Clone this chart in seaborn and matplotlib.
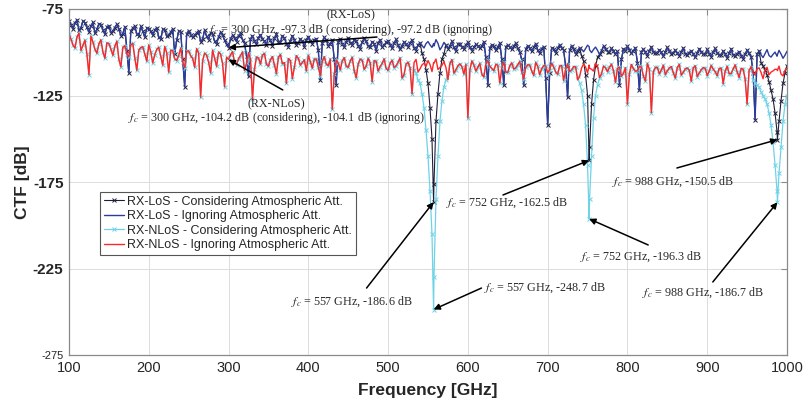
import numpy as np
import pandas as pd
import matplotlib
matplotlib.use("Agg")
import matplotlib.pyplot as plt
import seaborn as sns

# Frequency grid [GHz]: 5 GHz main grid, interleaved half-step grid, absorption-line centres
freq_main = np.arange(100, 1001, 5)
freq_half = np.arange(102.5, 1000, 5)
freq_lines = [557, 752, 988]

# RX-LoS, ignoring atmospheric attenuation [dB], main grid (+ line centres)
los_ign_main = [
    -82.1, -86.5, -81.3, -85.9, -83.0, -88.2, -82.7, -86.8, -84.1, -89.5,    # 100-145
    -84.6, -87.9, -83.8, -90.4, -85.2, -112.0, -86.1, -89.3, -85.0, -91.2,   # 150-195
    -86.3, -90.1, -85.7, -92.6, -87.0, -89.8, -86.4, -93.1, -88.2, -120.0,   # 200-245
    -87.5, -91.4, -88.9, -94.0, -87.2, -92.7, -89.6, -95.3, -88.4, -93.0,    # 250-295
    -97.2, -90.3, -93.8, -89.1, -94.9, -114.0, -90.6, -95.2, -89.9, -93.4,   # 300-345
    -91.0, -96.1, -89.7, -94.3, -91.8, -97.0, -90.5, -95.6, -92.3, -96.8,    # 350-395
    -90.9, -95.0, -92.1, -116.0, -91.4, -96.3, -93.0, -119.0, -92.2, -97.1,  # 400-445
    -91.6, -95.8, -93.4, -98.0, -92.0, -96.4, -93.9, -99.1, -92.8, -96.0,    # 450-495
    -93.5, -97.7, -92.6, -98.4, -94.1, -96.9, -92.9, -99.0, -94.6, -97.5,    # 500-545
    -93.8, -97.2, -95.0, -92.7, -98.6, -94.3, -97.9, -93.6, -99.4, -95.1, -98.2,  # 550-595 (+557)
    -94.2, -99.0, -95.5, -97.6, -93.9, -119.0, -95.8, -98.9, -94.7, -119.0,  # 600-645
    -95.9, -98.3, -94.8, -100.1, -119.0, -96.2, -99.5, -95.0, -100.6, -96.7, # 650-695
    -142.0, -97.3, -100.4, -95.6, -98.8, -126.0, -96.1, -100.9, -97.4, -99.7,  # 700-745
    -95.9, -96.8, -100.2, -97.0, -101.3, -96.5, -99.6, -97.8, -101.0, -119.0, -98.1,  # 750-795 (+752)
    -96.6, -100.7, -97.5, -122.0, -98.3, -101.9, -96.9, -100.2, -98.6, -102.4,  # 800-845
    -97.2, -100.8, -98.8, -102.0, -97.6, -101.5, -99.1, -103.0, -97.9, -101.2,  # 850-895
    -98.4, -102.6, -97.8, -101.7, -99.3, -103.4, -98.0, -102.1, -99.6, -103.8,  # 900-945
    -98.7, -102.5, -139.0, -99.2, -103.1, -98.5, -102.8, -99.9, -101.4, -98.9, -103.5,  # 950-995 (+988)
    -99.4,                                                                    # 1000
]
# RX-LoS, ignoring, half-step grid 102.5-997.5
los_ign_half = [
    -84.0, -83.2, -87.4, -81.9, -85.5, -84.8, -88.9, -83.5, -86.9, -85.3,
    -88.6, -85.7, -86.4, -89.2, -99.0, -87.5, -84.9, -90.6, -87.8, -86.1,
    -88.0, -87.4, -91.3, -86.8, -90.7, -88.5, -101.0, -87.9, -104.0, -89.4,
    -89.9, -90.2, -87.6, -92.4, -90.8, -88.7, -93.6, -91.1, -90.0, -95.5,
    -92.1, -91.7, -90.4, -92.8, -102.0, -92.3, -93.7, -91.5, -92.6, -95.8,
    -93.2, -92.0, -93.9, -90.6, -95.1, -93.3, -92.9, -94.8, -93.6, -92.7,
    -93.6, -92.8, -98.9, -94.4, -93.1, -95.5, -104.0, -94.0, -95.2, -93.8,
    -94.5, -92.9, -96.3, -94.1, -93.7, -97.2, -95.0, -94.6, -97.0, -94.3,
    -95.6, -94.9, -95.9, -96.1, -95.3, -94.7, -97.4, -95.9, -96.2, -95.0,
    -95.7, -96.4, -94.9, -96.8, -95.8, -96.5, -97.2, -95.4, -96.9, -96.0,
    -96.9, -97.1, -96.2, -96.4, -103.0, -97.3, -96.6, -97.0, -104.0, -96.8,
    -97.0, -96.5, -97.6, -104.0, -98.1, -97.4, -97.2, -98.6, -97.9, -115.0,
    -112.0, -98.2, -97.8, -97.6, -108.0, -98.9, -98.4, -99.1, -98.3, -97.9,
    -98.6, -98.4, -98.9, -99.2, -98.1, -99.8, -99.0, -99.5, -104.0, -99.4,
    -98.7, -99.1, -106.0, -99.6, -100.0, -99.3, -99.9, -100.4, -100.1, -99.7,
    -99.4, -100.3, -100.6, -99.8, -100.9, -100.2, -101.0, -100.5, -99.9, -101.3,
    -100.8, -100.1, -100.5, -101.4, -101.0, -100.7, -101.6, -100.9, -102.0, -101.2,
    -100.6, -112.0, -101.3, -101.5, -100.8, -101.9, -101.2, -102.3, -101.0, -101.7,
]

# RX-NLoS, ignoring atmospheric attenuation [dB], main grid (+ line centres)
nlos_ign_main = [
    -89.5, -95.8, -91.2, -99.0, -93.0, -113.0, -94.1, -100.6, -92.8, -103.5,
    -95.0, -101.8, -93.6, -108.5, -96.2, -102.7, -94.9, -110.4, -97.3, -101.0,
    -95.8, -106.2, -98.4, -102.3, -96.7, -111.5, -99.0, -104.8, -97.6, -108.9,
    -99.3, -103.6, -97.9, -126.0, -100.5, -105.7, -98.8, -108.2, -101.1, -120.0,
    -104.1, -99.6, -107.3, -101.9, -110.6, -100.2, -127.0, -102.8, -106.9, -100.7,
    -108.1, -102.5, -112.4, -101.3, -106.0, -103.7, -115.2, -102.0, -107.5, -104.4,
    -101.8, -109.2, -103.9, -113.6, -102.6, -107.8, -133.0, -104.5, -110.3, -103.1,
    -108.7, -102.9, -114.8, -104.0, -109.9, -103.5, -117.1, -105.2, -108.3, -103.8,
    -110.5, -104.6, -107.9, -103.2, -112.9, -105.8, -124.0, -104.1, -109.6, -106.3,
    -104.8, -111.2, -106.0, -103.9, -108.8, -105.4, -115.9, -104.2, -110.1, -106.7, -112.6,
    -138.0, -105.0, -110.9, -106.4, -114.3, -104.7, -109.4, -107.0, -117.8, -105.6,
    -111.7, -106.1, -109.0, -105.3, -115.5, -107.2, -110.8, -105.9, -113.0, -107.7,
    -112.0, -106.3, -111.4, -107.9, -116.4, -106.6, -110.2, -108.4, -114.1, -106.8,
    -111.9, -107.4, -109.8, -106.2, -114.7, -108.0, -111.3, -106.9, -117.4, -108.6, -112.2,
    -130.0, -107.1, -111.0, -108.2, -113.8, -106.5, -135.0, -108.8, -112.5, -107.5,
    -110.7, -108.3, -115.0, -107.0, -111.6, -109.1, -116.8, -107.8, -112.0, -108.9,
    -113.5, -107.6, -111.2, -109.4, -118.2, -108.1, -112.3, -107.3, -114.6, -109.7,
    -130.0, -108.4, -112.9, -109.0, -115.3, -108.7, -111.5, -109.8, -110.6, -108.0, -113.7,
    -109.2,
]
# RX-NLoS, ignoring, half-step grid 102.5-997.5
nlos_ign_half = [
    -92.4, -97.6, -88.9, -96.0, -101.2, -90.7, -98.3, -95.1, -99.8, -94.6,
    -98.1, -96.5, -104.0, -97.2, -100.9, -95.6, -103.3, -98.7, -96.8, -105.2,
    -99.7, -101.4, -97.1, -107.5, -100.3, -98.9, -103.8, -101.9, -105.6, -99.4,
    -102.0, -108.7, -100.6, -104.9, -101.7, -112.0, -103.4, -99.9, -106.5, -103.0,
    -101.5, -105.9, -103.7, -99.8, -106.4, -104.1, -109.7, -103.3, -101.6, -107.0,
    -104.3, -107.2, -103.0, -106.6, -118.0, -104.8, -108.5, -103.6, -105.9, -110.8,
    -105.5, -104.0, -108.6, -105.1, -106.9, -103.9, -112.5, -106.2, -105.0, -108.1,
    -105.2, -110.6, -106.7, -104.6, -108.0, -106.1, -104.9, -110.9, -106.5, -109.3,
    -106.4, -108.9, -105.7, -115.0, -106.8, -109.0, -106.0, -111.4, -107.3, -108.2,
    -107.1, -106.3, -110.0, -107.6, -108.9, -106.5, -112.1, -107.8, -108.3, -107.0,
    -110.2, -107.4, -108.6, -112.7, -106.9, -108.1, -110.7, -107.5, -109.2, -111.5,
    -107.8, -109.7, -107.1, -111.2, -108.8, -107.4, -113.4, -108.2, -109.5, -107.9,
    -110.0, -108.6, -112.8, -107.7, -109.8, -111.1, -108.3, -116.0, -109.1, -108.5,
    -109.3, -110.9, -108.1, -112.4, -109.0, -108.7, -110.6, -109.4, -113.9, -108.9,
    -112.3, -109.5, -110.7, -108.6, -116.7, -109.9, -111.2, -108.8, -110.3, -112.9,
    -109.1, -111.8, -108.9, -113.2, -109.6, -110.4, -109.0, -114.1, -110.1, -109.3,
    -111.0, -109.8, -113.6, -109.2, -110.9, -112.4, -109.7, -111.3, -109.4, -115.4,
    -110.5, -112.1, -109.6, -111.7, -110.2, -113.0, -110.8, -109.9, -112.6, -110.4,
]

# Points where atmospheric absorption changes the response (considering case)
los_cons_freq = [300, 542.5, 545, 547.5, 550, 552.5, 555, 557, 557.5, 560, 562.5, 565, 567.5, 570,
                 742.5, 745, 747.5, 750, 752, 752.5, 755, 757.5, 760, 762.5,
                 967.5, 970, 972.5, 975, 977.5, 980, 982.5, 985, 987.5, 988, 990, 992.5, 995, 997.5, 1000]
los_cons_val = [-97.3, -100.5, -104.0, -110.0, -118.0, -132.0, -150.0, -186.6, -176.0, -140.0, -124.0, -112.0, -104.0, -101.0,
                -102.0, -105.0, -113.0, -125.0, -162.5, -155.0, -130.0, -116.0, -108.0, -103.0,
                -106.0, -108.0, -110.0, -113.0, -117.0, -122.0, -127.0, -135.0, -146.0, -150.5, -140.0, -128.0, -118.0, -112.0, -108.0]

nlos_cons_freq = [300, 532.5, 535, 537.5, 540, 542.5, 545, 547.5, 550, 552.5, 555, 557, 557.5,
                  560, 562.5, 565, 567.5, 570, 572.5, 575,
                  737.5, 740, 742.5, 745, 747.5, 750, 752, 752.5, 755, 757.5, 760, 762.5, 765,
                  957.5, 960, 962.5, 965, 967.5, 970, 972.5, 975, 977.5, 980, 982.5, 985, 987.5,
                  988, 990, 992.5, 995, 997.5, 1000]
nlos_cons_val = [-104.2, -110.0, -112.0, -116.0, -118.0, -124.0, -132.0, -145.0, -160.0, -180.0, -205.0, -248.7, -230.0,
                 -185.0, -160.0, -140.0, -128.0, -120.0, -116.0, -112.0,
                 -114.0, -118.0, -122.0, -130.0, -142.0, -165.0, -196.3, -185.0, -160.0, -138.0, -125.0, -119.0, -115.0,
                 -116.0, -118.0, -119.0, -120.0, -123.0, -125.0, -127.0, -130.0, -135.0, -142.0, -152.0, -165.0, -180.0,
                 -186.7, -170.0, -155.0, -140.0, -130.0, -125.0]

series_labels = [
    "RX-LoS - Considering Atmospheric Att.",
    "RX-LoS - Ignoring Atmospheric Att.",
    "RX-NLoS - Considering Atmospheric Att.",
    "RX-NLoS - Ignoring Atmospheric Att.",
]

main_freq = np.sort(np.concatenate([freq_main, freq_lines])).astype(float)
df = pd.concat([
    pd.DataFrame({"freq": main_freq, "los_ign": los_ign_main, "nlos_ign": nlos_ign_main}),
    pd.DataFrame({"freq": freq_half, "los_ign": los_ign_half, "nlos_ign": nlos_ign_half}),
]).sort_values("freq").set_index("freq")
df["los_cons"] = df["los_ign"]
df["nlos_cons"] = df["nlos_ign"]
df.loc[los_cons_freq, "los_cons"] = los_cons_val
df.loc[nlos_cons_freq, "nlos_cons"] = nlos_cons_val
df = df.reset_index()

sns.set_style("white")
plt.rcParams["font.family"] = ["Liberation Sans", "DejaVu Sans"]
plt.rcParams["mathtext.fontset"] = "stix"
plt.rcParams["axes.unicode_minus"] = False

fig = plt.figure(figsize=(8.05, 4.08), dpi=100)
ax = fig.add_axes([69 / 805, 53 / 408, 718 / 805, 346 / 408])

styles = [
    ("los_cons", "#1f1f3a", "x", 0.8, 3.0),
    ("los_ign", "#2b3c9c", "", 1.0, 0),
    ("nlos_cons", "#6ed3e6", "x", 0.9, 3.5),
    ("nlos_ign", "#ff2626", "", 1.0, 0),
]
for (col, color, _, lw, _), lab in zip(styles, series_labels):
    sns.lineplot(data=df, x="freq", y=col, ax=ax, color=color, label=lab,
                 estimator=None, sort=False, linewidth=lw)

# markers on the "considering" curves
for line, (_, color, mk, _, ms) in zip(ax.lines, styles):
    if mk:
        line.set_marker(mk)
        line.set_markersize(ms)
        line.set_markeredgewidth(0.7)
        line.set_markeredgecolor(color)

ax.set_xlim(100, 1000)
ax.set_ylim(-275, -75)
ax.set_xticks(np.arange(100, 1001, 100))
ax.set_yticks([-275, -225, -175, -125, -75])
ax.grid(True, color="#dcdcdc", linewidth=0.7)
ax.set_axisbelow(True)
for sp in ax.spines.values():
    sp.set_color("#8a8a8a")
    sp.set_linewidth(0.9)
ax.tick_params(direction="in", length=4, width=0.8, color="#8a8a8a",
               top=True, right=True, labelsize=10.5, pad=4)
for lbl in ax.get_yticklabels():
    lbl.set_fontweight("bold")
    lbl.set_fontsize(11)
ylabs = ax.get_yticklabels()
ylabs[0].set_fontweight("normal")
ylabs[0].set_fontsize(8)

ax.set_xlabel("Frequency [GHz]", fontsize=12.5, fontweight="bold", labelpad=6)
ax.set_ylabel("CTF [dB]", fontsize=12.5, fontweight="bold", labelpad=2)

leg = ax.legend(loc="upper left", bbox_to_anchor=(0.043, 0.471), borderaxespad=0,
                fontsize=9, frameon=True, fancybox=False, framealpha=1,
                edgecolor="#555555", borderpad=0.3, labelspacing=0.2,
                handlelength=1.6, handletextpad=0.3)
leg.get_frame().set_linewidth(0.8)

serif = dict(family=["Liberation Serif", "DejaVu Serif"], fontsize=8.7, color="#2a2a2a",
             ha="center", va="center", linespacing=1.0)
arrow = dict(arrowstyle="-|>", color="black", lw=1.1, mutation_scale=9,
             shrinkA=0, shrinkB=0)

# Labels: (text, text position, arrow tail, arrow head)
notes = [
    ("(RX-LoS)\n$f_c$ = 300 GHz, -97.3 dB (considering), -97.2 dB (ignoring)",
     (453, -83.5), (486, -91.2), (300, -97.3)),
    ("(RX-NLoS)\n$f_c$ = 300 GHz, -104.2 dB (considering), -104.1 dB (ignoring)",
     (360, -134.5), (368, -121.8), (300, -104.2)),
    ("$f_c$ = 557 GHz, -186.6 dB", (455, -244.4), (473, -236.3), (557, -186.6)),
    ("$f_c$ = 557 GHz, -248.7 dB", (697, -236.3), (617, -236.3), (557, -248.7)),
    ("$f_c$ = 752 GHz, -162.5 dB", (649, -187.1), (644, -182.5), (752, -162.5)),
    ("$f_c$ = 752 GHz, -196.3 dB", (817, -218.4), (826, -211.4), (752, -196.3)),
    ("$f_c$ = 988 GHz, -150.5 dB", (857, -175.0), (862, -166.9), (988, -150.5)),
    ("$f_c$ = 988 GHz, -186.7 dB", (895, -239.2), (907, -232.8), (988, -186.7)),
]
for text, tpos, tail, head in notes:
    ax.text(tpos[0], tpos[1], text, multialignment="center", **serif)
    ax.annotate("", xy=head, xytext=tail, arrowprops=arrow)

fig.savefig("out.png", dpi=100)
